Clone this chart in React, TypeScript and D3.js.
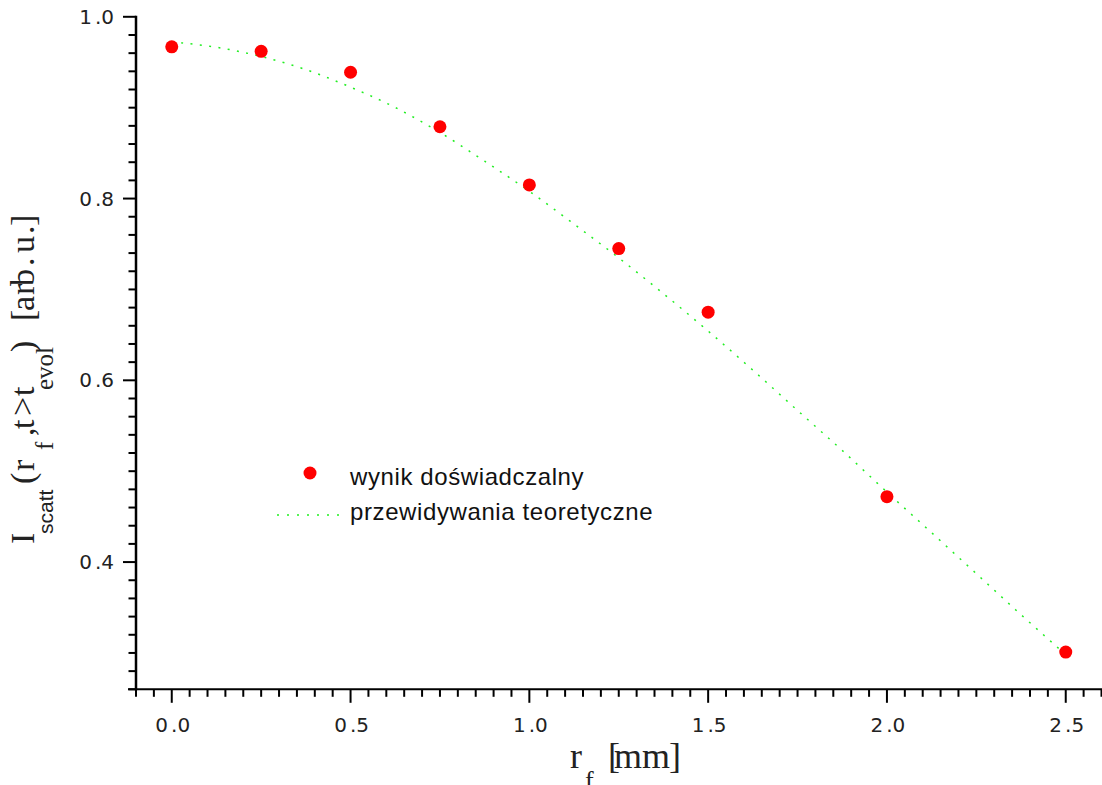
import React from "react";
import * as d3 from "d3";

const W = 1102;
const H = 785;

// measured scattering intensity vs. focal radius
const measuredR = [0, 0.25, 0.5, 0.75, 1.0, 1.25, 1.5, 2.0, 2.5];
const measuredI = [0.967, 0.962, 0.939, 0.879, 0.815, 0.745, 0.675, 0.472, 0.301];

// theoretical prediction, sampled along r_f
const theoryR = [0, 0.125, 0.25, 0.375, 0.5, 0.625, 0.75, 0.875, 1.0, 1.125, 1.25, 1.375, 1.5, 1.625, 1.75, 1.875, 2.0, 2.125, 2.25, 2.375, 2.5];
const theoryI = [0.9723, 0.9665, 0.9563, 0.9419, 0.9226, 0.9002, 0.8727, 0.8411, 0.808, 0.7719, 0.7347, 0.6953, 0.6542, 0.6112, 0.5668, 0.5228, 0.477, 0.4323, 0.3872, 0.3421, 0.2981];

const xTickValues = [0, 0.5, 1.0, 1.5, 2.0, 2.5];
const xTickLabels = ["0.0", "0.5", "1.0", "1.5", "2.0", "2.5"];
const yTickValues = [0.4, 0.6, 0.8, 1.0];
const yTickLabels = ["0.4", "0.6", "0.8", "1.0"];

const legendLabels = ["wynik doświadczalny", "przewidywania teoretyczne"];

const x = d3.scaleLinear().domain([-0.1, 2.6]).range([136, 1101.5]);
const y = d3.scaleLinear().domain([0.26, 1.0]).range([689.3, 16.8]);

const xMinor = d3.range(-0.1, 2.6001, 0.05);
const yMinor = d3.range(0.26, 1.0001, 0.02);

const SERIF = "'Liberation Serif', 'Times New Roman', serif";
const SANS = "'Liberation Sans', Arial, sans-serif";
const TICKFONT = "'DejaVu Sans', Verdana, sans-serif";
const GREEN = "#22ee22";

function TickLabel({ label, ...rest }: any) {
  const [a, b] = label.split(".");
  return (
    <text {...rest} fontFamily={TICKFONT} fontSize={20} fill="#222">
      <tspan>{a}</tspan>
      <tspan dx={3}>{"." + b}</tspan>
    </text>
  );
}

// glyph-by-glyph placement of the axis titles (offset along the baseline)
const yTitleMain: [string, number][] = [
  ["I", 6], ["(", 66], ["r", 79], [",", 114], ["t", 121], [">", 134], ["t", 154],
  [")", 198], ["[", 229], ["a", 239], ["r", 255], ["b", 264], [".", 284], ["u", 297], [".", 316], ["]", 324],
];
const yTitleSub: [string, number, string][] = [
  ["scatt", 16, SANS], ["f", 100, SERIF], ["evol", 160, SERIF],
];

export default function App() {
  const theoryPts = theoryR.map((r, i) => [r, theoryI[i]] as [number, number]);
  const line = d3
    .line<[number, number]>()
    .x((d) => x(d[0]))
    .y((d) => y(d[1]))
    .curve(d3.curveMonotoneX);

  const axisY0 = y(0.26);
  const axisX0 = x(-0.1);

  return (
    <svg
      width={W}
      height={H}
      style={{ position: "absolute", left: 0, top: 0, background: "#fff" }}
    >
      {/* theory curve */}
      <path d={line(theoryPts) || ""} fill="none" stroke={GREEN} strokeWidth={1.5} strokeDasharray="2 7.4" />

      {/* measured points */}
      {measuredR.map((r, i) => (
        <circle key={i} cx={x(r)} cy={y(measuredI[i])} r={6.5} fill="#ff0000" />
      ))}

      {/* axes */}
      <line x1={axisX0} x2={axisX0} y1={y(1.0) - 1} y2={axisY0 + 1} stroke="#000" strokeWidth={2.5} />
      <line x1={128} x2={W} y1={axisY0} y2={axisY0} stroke="#000" strokeWidth={2} />

      {yMinor.map((v, i) => {
        const major = yTickValues.some((t) => Math.abs(t - v) < 1e-6);
        return (
          <line key={i} x1={axisX0 - (major ? 13 : 7.5)} x2={axisX0} y1={y(v)} y2={y(v)} stroke="#000" strokeWidth={2} />
        );
      })}
      {xMinor.map((v, i) => {
        const major = xTickValues.some((t) => Math.abs(t - v) < 1e-6);
        return (
          <line key={i} x1={x(v)} x2={x(v)} y1={axisY0} y2={axisY0 + (major ? 13.5 : 7.5)} stroke="#000" strokeWidth={2} />
        );
      })}

      {yTickValues.map((v, i) => (
        <TickLabel key={i} label={yTickLabels[i]} x={114} y={y(v) + 7} textAnchor="end" />
      ))}
      {xTickValues.map((v, i) => (
        <TickLabel key={i} label={xTickLabels[i]} x={x(v) + 1} y={732} textAnchor="middle" />
      ))}

      {/* y axis title */}
      <g transform="translate(34,550) rotate(-90)" fill="#222">
        <text fontFamily={SERIF} fontSize={34}>
          {yTitleMain.map(([c, p], i) => (
            <tspan key={i} x={p} y={0}>{c}</tspan>
          ))}
        </text>
        <text fontSize={24}>
          {yTitleSub.map(([c, p, f], i) => (
            <tspan key={i} x={p} y={19} fontFamily={f} fontSize={f === SANS ? 21 : 25}>{c}</tspan>
          ))}
        </text>
      </g>

      {/* x axis title */}
      <text fontFamily={SERIF} fontSize={36} fill="#222">
        <tspan x={570} y={768}>r</tspan>
        <tspan x={585} y={789} fontSize={26}>f</tspan>
        <tspan x={608} y={768}>[</tspan>
        <tspan x={614} y={768}>m</tspan>
        <tspan x={642} y={768}>m</tspan>
        <tspan x={669} y={768}>]</tspan>
      </text>

      {/* legend */}
      <circle cx={310} cy={473} r={6.5} fill="#ff0000" />
      <text x={350} y={485} fontFamily={SANS} fontSize={24} letterSpacing={0.6} fill="#111">{legendLabels[0]}</text>
      <line x1={277} x2={339} y1={515} y2={515} stroke={GREEN} strokeWidth={1.5} strokeDasharray="2 8" />
      <text x={350} y={520} fontFamily={SANS} fontSize={24} letterSpacing={0.6} fill="#111">{legendLabels[1]}</text>
    </svg>
  );
}
